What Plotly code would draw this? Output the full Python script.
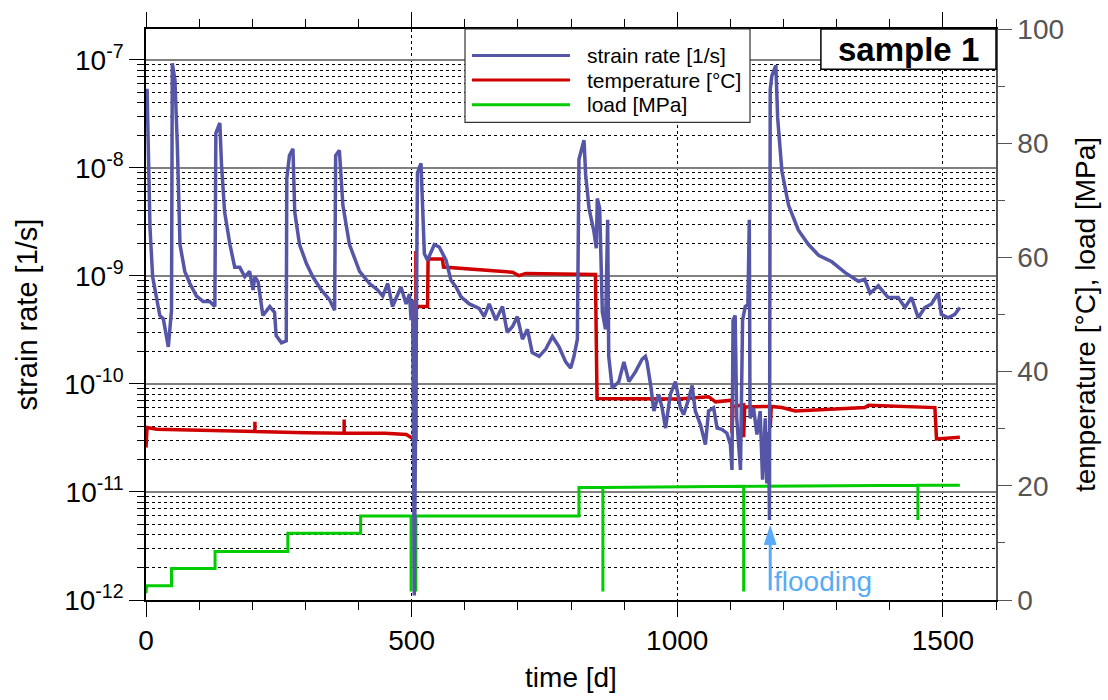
import plotly.graph_objects as go

# ---------------- data ----------------
days_rate = [2, 4.4, 7.5, 12.5, 20, 26, 32.6, 42, 48, 49.5, 54.5, 59, 64, 73, 82.6, 95, 107.6, 120, 129.6,
             131.5, 139, 142, 148, 158, 167, 176.5, 186, 195, 201.6, 204.7, 211, 220, 233, 242, 245, 255, 264,
             265, 270, 276.6, 280, 289, 302, 314, 330, 345.6, 355, 357, 364, 370.6, 383, 402, 420.7, 436,
             445.6, 455, 464, 480, 489.6, 496, 499, 502, 505, 511, 517.6, 521, 524, 530, 542.7, 552, 564.7,
             574, 583.5, 593, 608.5, 627, 636.6, 646, 658.6, 671, 680, 690, 699, 708.6, 718, 727, 740, 752.5,
             765, 777.5, 790, 799.5, 805.6, 812, 815, 824.5, 827.6, 834, 843, 847.6, 849.5, 854, 859, 865,
             869, 871, 877.6, 890, 899.6, 909, 921.5, 934, 940, 943, 950, 956, 965, 971.5, 978, 987, 996.6,
             1006, 1012, 1021.6, 1028, 1034, 1043.6, 1053, 1059, 1068.5, 1075, 1084, 1093.5, 1100, 1103,
             1105, 1109, 1112, 1119, 1123, 1128, 1133, 1135.6, 1137, 1143.6, 1150, 1156, 1160.6, 1165.6,
             1168.6, 1172, 1173.6, 1175, 1178, 1185.6, 1189, 1197, 1209.5, 1228, 1247, 1266, 1291, 1316,
             1341, 1353, 1363, 1378.6, 1397, 1416, 1428.6, 1441, 1453.6, 1466, 1478.5, 1491, 1497, 1510,
             1522.5, 1532]
strain_rate = [5.4e-8, 1.6e-8, 2.8e-9, 9.8e-10, 6.5e-10, 4.3e-10, 4.0e-10, 2.2e-10, 4.8e-10, 9.3e-8, 6.5e-8,
               1.6e-8, 1.95e-9, 1.1e-9, 8.5e-10, 6.5e-10, 5.8e-10, 5.8e-10, 5.2e-10,
               2.1e-8, 2.6e-8, 1.1e-8, 3.9e-9, 1.95e-9, 1.2e-9, 1.2e-9, 9.8e-10, 1.1e-9, 7.4e-10, 9.8e-10,
               8.8e-10, 4.3e-10, 5.2e-10, 4.6e-10, 2.8e-10, 2.4e-10, 2.5e-10,
               7.9e-9, 1.3e-8, 1.5e-8, 3.9e-9, 1.95e-9, 1.3e-9, 9.8e-10, 7.4e-10, 6.0e-10, 4.8e-10, 1.3e-8,
               1.45e-8, 4.5e-9, 1.95e-9, 1.1e-9, 8.5e-10, 7.4e-10,
               6.5e-10, 8.5e-10, 5.2e-10, 7.9e-10, 5.5e-10, 6.8e-10, 3.9e-10, 6.0e-10, 1.1e-12, 9e-9, 1.1e-8,
               3e-9, 1.6e-9, 1.4e-9, 1.95e-9, 1.85e-9, 1.4e-9,
               9.1e-10, 7.9e-10, 6.4e-10, 5.5e-10, 5.0e-10, 4.2e-10, 5.5e-10, 3.9e-10, 5.2e-10, 3.0e-10,
               3.4e-10, 4.2e-10, 2.6e-10, 3.2e-10, 1.95e-10, 1.8e-10, 2.1e-10,
               2.75e-10, 2.2e-10, 1.6e-10, 1.4e-10, 1.8e-10, 2.6e-10, 1.2e-8, 1.8e-8, 8.6e-9, 4.2e-9, 2.6e-9,
               1.8e-9, 5.2e-9, 4.2e-9, 4.6e-10, 3.2e-10,
               3.3e-9, 1.8e-10, 9.1e-11, 1.05e-10, 1.6e-10, 1.05e-10, 1.3e-10, 1.7e-10, 1.8e-10, 1.6e-10,
               9.7e-11, 5.6e-11, 8e-11, 6e-11, 3.9e-11, 8e-11, 1.05e-10,
               6e-11, 5.2e-11, 7.3e-11, 9.7e-11, 5.6e-11, 4.2e-11, 2.75e-11, 5.6e-11, 6e-11, 3.9e-11, 3.8e-11,
               3.5e-11, 2.75e-11, 1.6e-11,
               3.9e-10, 4.3e-10, 4.8e-11, 1.6e-11, 3.9e-10, 5.2e-10, 5.4e-10, 3.3e-9, 4.8e-11, 6e-11, 3.4e-11,
               5.6e-11, 1.3e-11, 4.8e-11,
               1.2e-11, 3.6e-11, 5.5e-12, 5.3e-8, 7.1e-8, 8.9e-8, 2.9e-8, 9.3e-9, 4.5e-9, 2.65e-9, 1.95e-9,
               1.55e-9, 1.35e-9, 1.07e-9,
               8.9e-10, 9.3e-10, 6.9e-10, 8.1e-10, 6.3e-10, 6.3e-10, 5.1e-10, 6.3e-10, 4.1e-10, 5.1e-10,
               5.5e-10, 6.9e-10, 4.4e-10, 4.1e-10,
               4.4e-10, 5.1e-10]

days_temp = [0, 2, 20, 100, 205, 205, 205, 300, 373, 373, 373, 450, 490, 502, 508, 508, 508, 530, 531,
             558, 560, 690, 702, 715, 846, 849, 1003, 1059, 1072, 1103, 1103, 1105, 1125, 1125, 1127,
             1175, 1175, 1177, 1197, 1222, 1297, 1353, 1360, 1485, 1488, 1532]
temperature = [26.7, 30.2, 29.9, 29.7, 29.5, 31.2, 29.5, 29.3, 29.2, 31.6, 29.2, 29.2, 29.0, 28.3, 28.3,
               61.1, 51.4, 51.4, 59.7, 59.7, 58.3, 57.4, 56.8, 57.2, 57.0, 35.3, 35.2, 35.6, 34.7, 35.0,
               29.3, 33.9, 34.2, 28.5, 33.8, 33.9, 30.2, 33.9, 33.7, 33.1, 33.4, 33.7, 34.1, 33.7, 28.2, 28.5]

days_load = [0, 1, 48, 48, 130, 130, 267, 267, 404, 404, 499, 499, 499, 508, 508, 508, 815, 815, 860, 860,
             860, 1125, 1125, 1125, 1453, 1453, 1453, 1532]
load = [1.2, 2.5, 2.5, 5.5, 5.5, 8.5, 8.5, 11.7, 11.7, 14.7, 14.7, 1.5, 14.7, 14.7, 1.5, 14.7, 14.7, 19.7,
        19.7, 1.5, 19.7, 19.9, 1.5, 19.9, 20.1, 14.0, 20.1, 20.1]

flood_day = 1175

x_tick_vals = [0, 500, 1000, 1500]
rate_tick_vals = [1e-12, 1e-11, 1e-10, 1e-9, 1e-8, 1e-7]
rate_tick_text = ["10<sup>-12</sup>", "10<sup>-11</sup>", "10<sup>-10</sup>", "10<sup>-9</sup>",
                  "10<sup>-8</sup>", "10<sup>-7</sup>"]
rate_minor_vals = [m * d for d in rate_tick_vals[:-1] for m in range(2, 10)]
right_tick_vals = [0, 20, 40, 60, 80, 100]

series_names = ["strain rate [1/s]", "temperature [°C]", "load [MPa]"]
series_colors = ["#5656a8", "#d00000", "#00cc00"]
flood_color = "#5aabf7"

FONT = "Liberation Sans, Arial, sans-serif"

fig = go.Figure()
# temperature / load on the (primary) linear right axis
fig.add_trace(go.Scatter(x=days_load, y=load, mode="lines", name=series_names[2],
                         line=dict(color=series_colors[2], width=3), yaxis="y", showlegend=False))
fig.add_trace(go.Scatter(x=days_temp, y=temperature, mode="lines", name=series_names[1],
                         line=dict(color=series_colors[1], width=3.5), yaxis="y", showlegend=False))
# strain rate on the overlaying log axis (left)
fig.add_trace(go.Scatter(x=days_rate, y=strain_rate, mode="lines", name=series_names[0],
                         line=dict(color=series_colors[0], width=3.5), yaxis="y2", showlegend=False))

fig.update_layout(
    width=1108, height=700, autosize=False,
    margin=dict(l=146, r=112, t=21, b=98),
    paper_bgcolor="white", plot_bgcolor="white",
    font=dict(family=FONT, color="black"),
    xaxis=dict(
        range=[0, 1600], tickmode="array", tickvals=x_tick_vals,
        ticks="outside", ticklen=15, tickwidth=1, tickcolor="black",
        tickfont=dict(size=28, color="black"),
        showline=True, linecolor="black", linewidth=1.5, mirror="ticks",
        showgrid=True, gridcolor="black", griddash="dot", gridwidth=1,
        zeroline=False,
        minor=dict(dtick=100, tick0=0, ticks="outside", ticklen=8, tickcolor="black", showgrid=False),
        title=dict(text="time [d]", font=dict(size=28), standoff=12),
    ),
    yaxis=dict(
        range=[0, 100], side="right", tickmode="array", tickvals=right_tick_vals,
        ticks="outside", ticklen=14, tickcolor="#555555", tickwidth=1,
        tickfont=dict(size=28, color="#555555"),
        showline=True, linecolor="#555555", linewidth=1.5,
        showgrid=False, zeroline=False,
        minor=dict(dtick=10, tick0=0, ticks="outside", ticklen=7, tickcolor="#555555", showgrid=False),
        title=dict(text="temperature [°C], load [MPa]", font=dict(size=28), standoff=12),
    ),
    yaxis2=dict(
        type="log", range=[-12, -6.715], side="left", overlaying="y", anchor="x",
        tickmode="array", tickvals=rate_tick_vals, ticktext=rate_tick_text,
        ticks="outside", ticklen=15, tickcolor="black", tickwidth=1,
        tickfont=dict(size=28, color="black"),
        showline=True, linecolor="black", linewidth=1.5,
        showgrid=True, gridcolor="#808080", gridwidth=2,
        zeroline=False,
        minor=dict(tickmode="array", tickvals=rate_minor_vals, ticks="outside", ticklen=7,
                   tickcolor="black", showgrid=True, gridcolor="black", griddash="dot", gridwidth=1),
        title=dict(text="strain rate [1/s]", font=dict(size=29), standoff=18),
    ),
)

shapes = []
annotations = []

# manual legend box
shapes.append(dict(type="rect", xref="paper", yref="paper", x0=0.3753, x1=0.7106, y0=0.8365, y1=1.0,
                   line=dict(color="#333333", width=1.2), fillcolor="white", layer="above"))
legend_y = [0.9535, 0.9105, 0.8675]
for name, col, yy in zip(series_names, series_colors, legend_y):
    shapes.append(dict(type="line", xref="paper", yref="paper", x0=0.3835, x1=0.4988, y0=yy, y1=yy,
                       line=dict(color=col, width=3), layer="above"))
    annotations.append(dict(text=name, xref="paper", yref="paper", x=0.5165, y=yy, xanchor="left",
                            yanchor="middle", showarrow=False, font=dict(size=21, color="black")))

# "sample 1" box
shapes.append(dict(type="rect", xref="paper", yref="paper", x0=0.794, x1=1.0, y0=0.9294, y1=1.0,
                   line=dict(color="black", width=1.5), fillcolor="white", layer="above"))
annotations.append(dict(text="<b>sample 1</b>", xref="paper", yref="paper", x=0.897, y=0.9647,
                        xanchor="center", yanchor="middle", showarrow=False,
                        font=dict(size=33, color="black")))

# flooding arrow (shaft + head) and label
shapes.append(dict(type="line", xref="x", yref="paper", x0=flood_day, x1=flood_day, y0=0.0172, y1=0.105,
                   line=dict(color=flood_color, width=3), layer="above"))
shapes.append(dict(type="path", xref="x", yref="paper",
                   path=f"M {flood_day - 11},0.097 L {flood_day + 11},0.097 L {flood_day},0.129 Z",
                   fillcolor=flood_color, line=dict(color=flood_color, width=1), layer="above"))
annotations.append(dict(text="flooding", x=flood_day + 3, y=-11.83, xref="x", yref="y2", showarrow=False,
                        xanchor="left", yanchor="middle", font=dict(size=28, color=flood_color)))

fig.update_layout(shapes=shapes, annotations=annotations)

fig.write_html("out.html")
